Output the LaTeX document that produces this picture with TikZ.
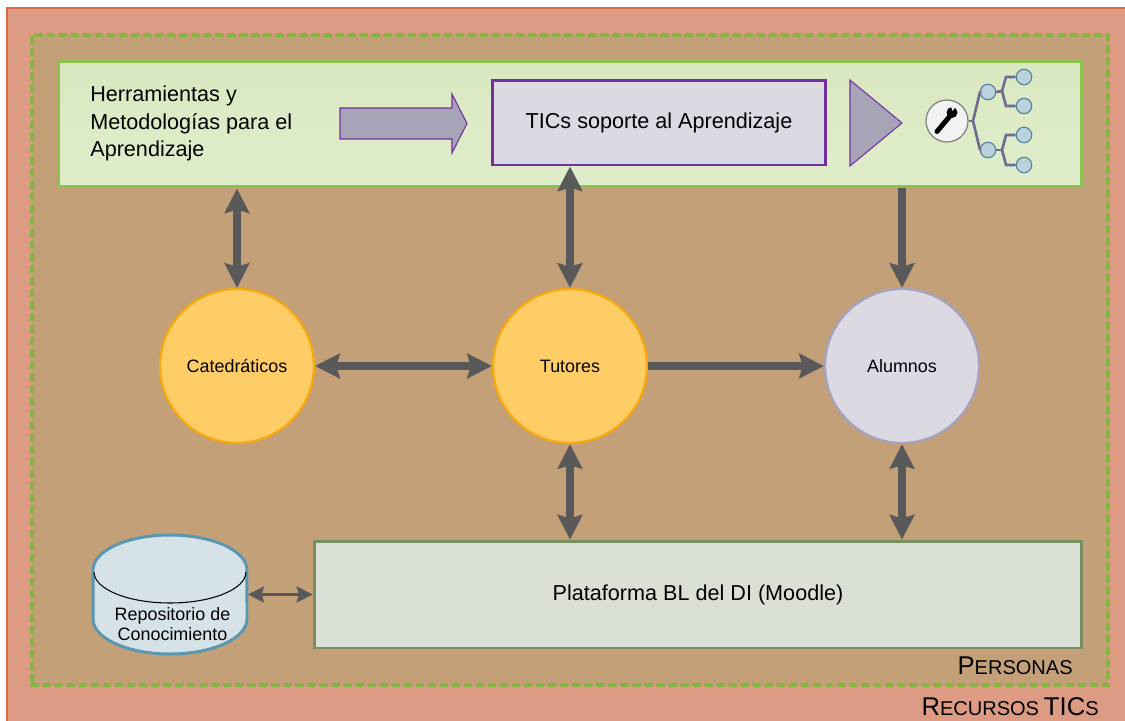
\documentclass[tikz,border=0pt]{standalone}
\usepackage{fontspec}
\setmainfont{Liberation Sans}
\usetikzlibrary{arrows.meta}
\definecolor{recursofill}{HTML}{DD9B84}
\definecolor{recursoline}{HTML}{DB6B42}
\definecolor{personafill}{HTML}{C3A078}
\definecolor{personaline}{HTML}{83B541}
\definecolor{herratop}{HTML}{DAE8C1}
\definecolor{herrabot}{HTML}{E0EDCB}
\definecolor{herraline}{HTML}{8CC04F}
\definecolor{ticfill}{HTML}{DBDAE3}
\definecolor{ticline}{HTML}{7030A0}
\definecolor{blockfill}{HTML}{A8A4B8}
\definecolor{tutorfill}{HTML}{FFCD66}
\definecolor{tutorline}{HTML}{F5A90F}
\definecolor{alumnoline}{HTML}{A5A3BF}
\definecolor{platfill}{HTML}{DAE0D5}
\definecolor{platline}{HTML}{76905F}
\definecolor{repofill}{HTML}{D5E2E8}
\definecolor{repoline}{HTML}{5B97AE}
\definecolor{flecha}{HTML}{595959}
\definecolor{ramaline}{HTML}{6F6B92}
\definecolor{hojafill}{HTML}{B9D2DC}
\definecolor{hojaline}{HTML}{4F7F98}
\newcommand{\fakesc}[2]{{\fontsize{14.6}{16}\selectfont #1}{\fontsize{11.4}{13}\selectfont #2}}
\begin{document}
\begin{tikzpicture}
            [x=0.02cm, y=-0.02cm,
            box/.style={rectangle, draw, inner sep=0pt},
            persona/.style={circle, draw, line width=1.3pt, minimum size=3.08cm, inner sep=0pt, font=\fontsize{10.2}{12}\selectfont},
            doble/.style={flecha, line width=4.6pt, {Stealth[width=14pt,length=14pt,inset=2pt]}-{Stealth[width=14pt,length=14pt,inset=2pt]}},
            simple/.style={flecha, line width=4.6pt, -{Stealth[width=14pt,length=14pt,inset=2pt]}},
            fina/.style={flecha, line width=2pt, {Stealth[width=9pt,length=9pt,inset=1.2pt]}-{Stealth[width=9pt,length=9pt,inset=1.2pt]}},
            hoja/.style={circle, draw=hojaline, fill=hojafill, line width=0.6pt, minimum size=0.31cm, inner sep=0pt},
            rama/.style={ramaline, line width=1.5pt}]

            \useasboundingbox (0,0) rectangle (1125,720);

            % Zones
            \draw[recursoline, fill=recursofill, line width=0.8pt] (7,8) rectangle (1135,730);
            \node[box, draw=personaline, fill=personafill, line width=2.2pt, line cap=round, dash pattern=on 3pt off 3.85pt,
                minimum width=21.52cm, minimum height=13cm] (zona) at (570,360) {};
            \node[box, draw=herraline, top color=herratop, bottom color=herrabot, line width=1.7pt, minimum width=20.48cm, minimum height=2.52cm] (herra) at (570,124) {};

            % Top row
            \node[anchor=west, align=left, inner sep=0pt, font=\fontsize{12.3}{15.6}\selectfont] (texto) at (90,123.5) {Herramientas y\\Metodologías para el\\Aprendizaje};
            \draw[ticline, fill=blockfill, line width=0.6pt] (340,108) -- (452,108) -- (452,94) -- (467,123.5) -- (452,153) -- (452,139) -- (340,139) -- cycle;
            \node[box, draw=ticline, fill=ticfill, line width=1.7pt, minimum width=6.68cm, minimum height=1.7cm, font=\fontsize{12.3}{14}\selectfont] (tic) at (659,122.5) {TICs soporte al Aprendizaje};
            \draw[ticline, fill=blockfill, line width=0.6pt] (850,80) -- (902,123) -- (850,166) -- cycle;

            % Tool tree
            \node[circle, draw=gray, fill=white!95!black, line width=0.7pt, minimum size=0.84cm, inner sep=0pt] (tool) at (947,121) {};
            \node[hoja] (r1) at (988,92) {};
            \node[hoja] (r2) at (988,150) {};
            \node[hoja] (h1) at (1024,77) {};
            \node[hoja] (h2) at (1024,106) {};
            \node[hoja] (h3) at (1024,135) {};
            \node[hoja] (h4) at (1024,165) {};
            \coordinate (c0) at (973,121);
            \coordinate (c1) at (1002,91);
            \coordinate (c2) at (1002,150);
            \draw[rama] (tool.east) -- (c0);
            \draw[rama] (r1.west) -- (980,92) -- (c0) -- (980,150) -- (r2.west);
            \draw[rama] (r1.east) -- (c1);
            \draw[rama] (r2.east) -- (c2);
            \draw[rama] (h1.west) -- (1006,77) -- (c1) -- (1006,106) -- (h2.west);
            \draw[rama] (h3.west) -- (1006,135) -- (c2) -- (1006,165) -- (h4.west);
            % Wrench
            \draw[black, line width=2.8pt, line cap=round] (937,131.5) -- (950,116);
            \fill[black] (952,112.5) circle (0.11cm);
            \fill[white!95!black] (952.5,111) -- (950.5,105) -- (956,106.5) -- cycle;

            % People
            \node[persona, draw=tutorline, fill=tutorfill] (cat) at (237,366) {Catedráticos};
            \node[persona, draw=tutorline, fill=tutorfill] (tut) at (570,366) {Tutores};
            \node[persona, draw=alumnoline, fill=ticfill] (alu) at (902,366) {Alumnos};

            % Bottom row
            \node[box, draw=platline, fill=platfill, line width=1.7pt, minimum width=15.36cm, minimum height=2.14cm, font=\fontsize{12.3}{14}\selectfont] (plat) at (698,594.5) {Plataforma BL del DI (Moodle)};
            \draw[repoline, fill=repofill, line width=1.7pt] (93,570) arc[start angle=180, end angle=0, x radius=1.54cm, y radius=0.7cm]
                -- (247,619) arc[start angle=0, end angle=-180, x radius=1.54cm, y radius=0.7cm] -- cycle;
            \draw[black, line width=0.6pt] (94,572) arc[start angle=180, end angle=360, x radius=1.52cm, y radius=0.62cm];
            \node[align=center, font=\fontsize{10.2}{11.8}\selectfont] (repotexto) at (172.5,624) {Repositorio de\\Conocimiento};
            \coordinate (repo) at (248,595);

            % Connections
            \draw[doble] (cat.north |- herra.south) -- (cat.north);
            \draw[doble] (tut.north |- tic.south) -- (tut.north);
            \draw[simple] (alu.north |- herra.south) -- (alu.north);
            \draw[doble] (cat) -- (tut);
            \draw[simple] (tut) -- (alu);
            \draw[doble] (tut.south) -- (tut.south |- plat.north);
            \draw[doble] (alu.south) -- (alu.south |- plat.north);
            \draw[fina] (repo |- plat.west) -- (plat.west);

            % Zone labels
            \node[anchor=base east, inner sep=0pt] (lblpersona) at (1073,674) {\fakesc{P}{ERSONAS}};
            \node[anchor=base east, inner sep=0pt] (lblrecurso) at (1099,715) {\fakesc{R}{ECURSOS} \fakesc{TIC}{S}};
        \end{tikzpicture}
\end{document}
